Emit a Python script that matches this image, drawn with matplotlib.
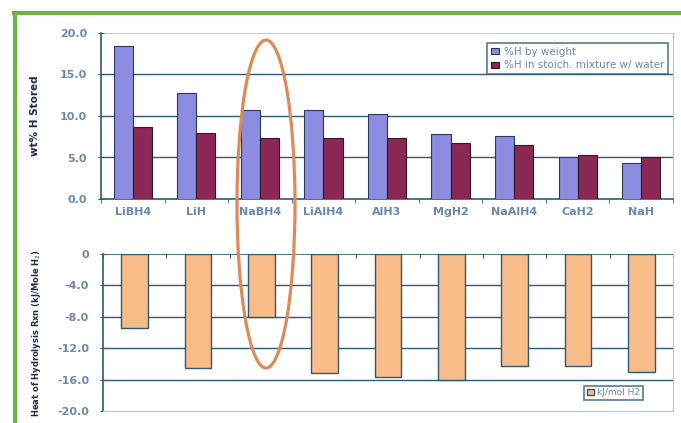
import numpy as np
import matplotlib.pyplot as plt
from matplotlib.patches import Ellipse
from matplotlib.lines import Line2D

# hydrides compared
hydrides = ["LiBH4", "LiH", "NaBH4", "LiAlH4", "AlH3", "MgH2", "NaAlH4", "CaH2", "NaH"]

# wt% H stored
h_by_weight = [18.4, 12.8, 10.7, 10.7, 10.3, 7.8, 7.6, 5.0, 4.3]
h_stoich_water = [8.7, 7.9, 7.4, 7.4, 7.3, 6.7, 6.5, 5.3, 5.0]

# heat of hydrolysis
heat_hydrolysis = [-9.4, -14.5, -8.0, -15.2, -15.7, -16.1, -14.3, -14.3, -15.0]

top_ticks = [0, 5, 10, 15, 20]
top_ticklabels = ["0.0", "5.0", "10.0", "15.0", "20.0"]
bot_ticks = [0, -4, -8, -12, -16, -20]
bot_ticklabels = ["0", "-4.0", "-8.0", "-12.0", "-16.0", "-20.0"]

grid_col = "#2d5a78"
light_col = "#a8c8e0"
text_col = "#6a88b0"

fig = plt.figure(figsize=(6.81, 4.23), dpi=100)
W, H = 681, 423

def px_axes(x0, y0, x1, y1):
    return fig.add_axes([x0 / W, 1 - y1 / H, (x1 - x0) / W, (y1 - y0) / H])

x = np.arange(len(hydrides))

# ---- top chart ----
ax1 = px_axes(101, 33, 673, 199)
bw = 0.3
ax1.bar(x - bw / 2, h_by_weight, bw, color="#8c8ce0", edgecolor="#2a3a5a", lw=0.8,
        label="%H by weight", zorder=3)
ax1.bar(x + bw / 2, h_stoich_water, bw, color="#8c2856", edgecolor="#2a1a2a", lw=0.8,
        label="%H in stoich. mixture w/ water", zorder=3)
ax1.set_xlim(-0.5, len(hydrides) - 0.5)
ax1.set_ylim(0, 20)
ax1.set_yticks(top_ticks)
ax1.set_yticklabels(top_ticklabels, fontsize=8, color=text_col, fontweight="bold")
ax1.set_xticks(x)
ax1.set_xticklabels(hydrides, fontsize=8, color=text_col, fontweight="bold")
ax1.set_xticks(np.arange(-0.5, len(hydrides)), minor=True)
ax1.tick_params(axis="x", which="major", length=0, pad=6)
ax1.tick_params(axis="x", which="minor", length=3, color=grid_col)
ax1.tick_params(axis="y", length=4, color=grid_col, direction="inout", pad=8)
for v in [5, 10, 15]:
    ax1.axhline(v, color=grid_col, lw=1.0, zorder=1)
ax1.axhline(20, color=light_col, lw=1.2, zorder=1)
ax1.spines["top"].set_visible(False)
ax1.spines["right"].set_color(light_col)
ax1.spines["left"].set_color(grid_col)
ax1.spines["bottom"].set_color(grid_col)
ax1.spines["left"].set_linewidth(1.2)
ax1.spines["bottom"].set_linewidth(1.2)
ax1.set_ylabel("wt% H Stored", fontsize=7.5, fontweight="bold", color="#1a2a4a", labelpad=14)
leg1 = ax1.legend(loc="upper right", bbox_to_anchor=(1.0, 0.97), fontsize=7, frameon=True,
                  fancybox=False, edgecolor=grid_col, handlelength=0.8, handleheight=0.6,
                  handletextpad=0.4, borderpad=0.35, labelspacing=0.35, labelcolor=text_col,
                  prop={"size": 7.5})
leg1.get_frame().set_linewidth(1.2)

# ---- bottom chart ----
ax2 = px_axes(103, 254, 673, 411)
ax2.bar(x, heat_hydrolysis, 0.42, color="#f8bc88", edgecolor=grid_col, lw=1.0,
        label="kJ/mol H2", zorder=3)
ax2.set_xlim(-0.5, len(hydrides) - 0.5)
ax2.set_ylim(-20, 0)
ax2.set_yticks(bot_ticks)
ax2.set_yticklabels(bot_ticklabels, fontsize=8, color=text_col, fontweight="bold")
ax2.set_xticks(np.arange(-0.5, len(hydrides)))
ax2.set_xticklabels([])
ax2.tick_params(axis="x", length=3, color=grid_col, direction="in", top=True, bottom=False)
ax2.tick_params(axis="y", length=4, color=grid_col, direction="inout", pad=8)
for v in [-4, -8, -12, -16]:
    ax2.axhline(v, color=grid_col, lw=1.0, zorder=1)
ax2.axhline(0, color=grid_col, lw=1.2, zorder=4)
ax2.spines["bottom"].set_color(light_col)
ax2.spines["right"].set_color(light_col)
ax2.spines["top"].set_visible(False)
ax2.spines["left"].set_color(grid_col)
ax2.spines["left"].set_linewidth(1.2)
ax2.set_ylabel("Heat of Hydrolysis Rxn (kJ/Mole H$_2$)", fontsize=6, fontweight="bold",
               color="#1a2a4a", labelpad=10)
leg2 = ax2.legend(loc="lower right", bbox_to_anchor=(0.955, 0.04), frameon=True,
                  fancybox=False, edgecolor=grid_col, handlelength=0.8, handleheight=0.6,
                  handletextpad=0.3, borderpad=0.3, labelcolor=text_col, prop={"size": 6.5})
leg2.get_frame().set_linewidth(1.2)

# green frame (top and left)
fig.add_artist(Line2D([14 / W, 1], [1 - 13 / H, 1 - 13 / H], transform=fig.transFigure,
                      color="#6db33f", lw=3))
fig.add_artist(Line2D([15 / W, 15 / W], [1 - 13 / H, 0], transform=fig.transFigure,
                      color="#6db33f", lw=3))

# highlight ellipse around NaBH4
ell = Ellipse((266 / W, 1 - 204 / H), 58 / W, 328 / H, transform=fig.transFigure,
              fill=False, edgecolor="#dc8a5a", lw=2.3, zorder=10)
fig.add_artist(ell)

fig.savefig("out.png", dpi=100)
